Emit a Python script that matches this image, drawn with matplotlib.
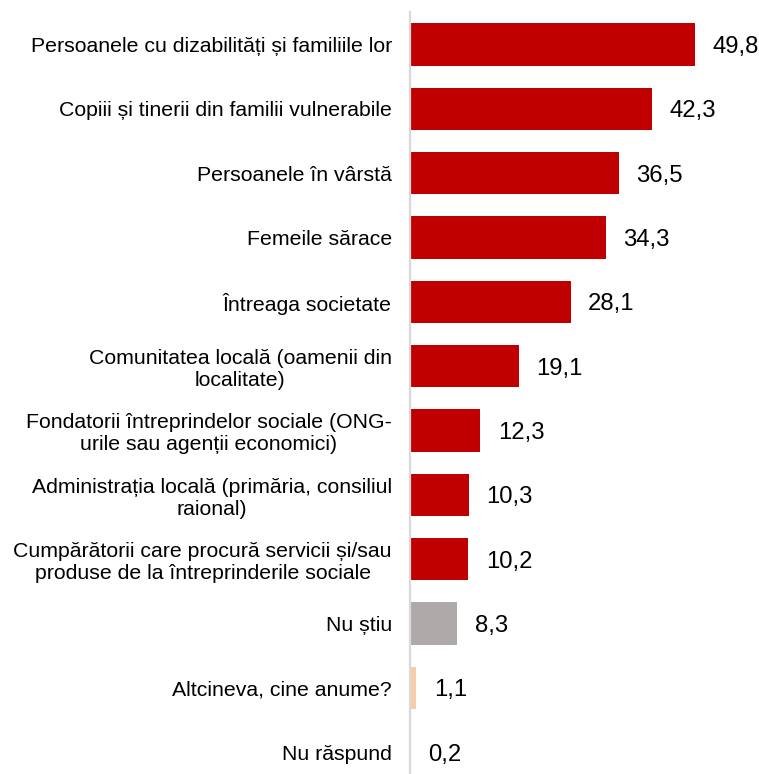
import matplotlib
matplotlib.use("Agg")
import matplotlib.pyplot as plt

plt.rcParams['font.family'] = ['Liberation Sans', 'DejaVu Sans']

# categories, top to bottom
categories = [
    "Persoanele cu dizabilități și familiile lor",
    "Copiii și tinerii din familii vulnerabile",
    "Persoanele în vârstă",
    "Femeile sărace",
    "Întreaga societate",
    "Comunitatea locală (oamenii din\nlocalitate)",
    "Fondatorii întreprindelor sociale (ONG-\nurile sau agenții economici)",
    "Administrația locală (primăria, consiliul\nraional)",
    "Cumpărătorii care procură servicii și/sau\nproduse de la întreprinderile sociale",
    "Nu știu",
    "Altcineva, cine anume?",
    "Nu răspund",
]
values = [49.8, 42.3, 36.5, 34.3, 28.1, 19.1, 12.3, 10.3, 10.2, 8.3, 1.1, 0.2]
colors = ["#C00000"] * 9 + ["#AEAAAA", "#F8CBAD", "#A5A5A5"]

W, H = 759, 774
fig = plt.figure(figsize=(W / 100, H / 100), dpi=100)

# axes geometry in pixels
x0 = 410
top = 12.3
step = 64.33
ax_h = H - top
n_rows = (H - top) / step
ax = fig.add_axes([x0 / W, 0, (W - x0) / W, ax_h / H])

y = list(range(len(categories)))
ax.barh(y, values, height=0.66, color=colors, zorder=2)

ax.set_ylim(-0.5 + n_rows, -0.5)
ax.set_xlim(0, (W - x0) / 5.72)

for yi, v in zip(y, values):
    ax.annotate(f"{v:.1f}".replace(".", ","), (v, yi), xytext=(12.5, -1.8),
                textcoords="offset points", va="center", ha="left",
                fontsize=17.2, color="#000000")

ax.set_yticks(y)
ax.set_yticklabels(categories, fontsize=15.3, multialignment="center")
ax.tick_params(axis="y", length=0, pad=13)
ax.set_xticks([])

for s in ["top", "right", "bottom"]:
    ax.spines[s].set_visible(False)
ax.spines["left"].set_color("#D9D9D9")
ax.spines["left"].set_linewidth(1.6)

fig.savefig("out.png", dpi=100)
